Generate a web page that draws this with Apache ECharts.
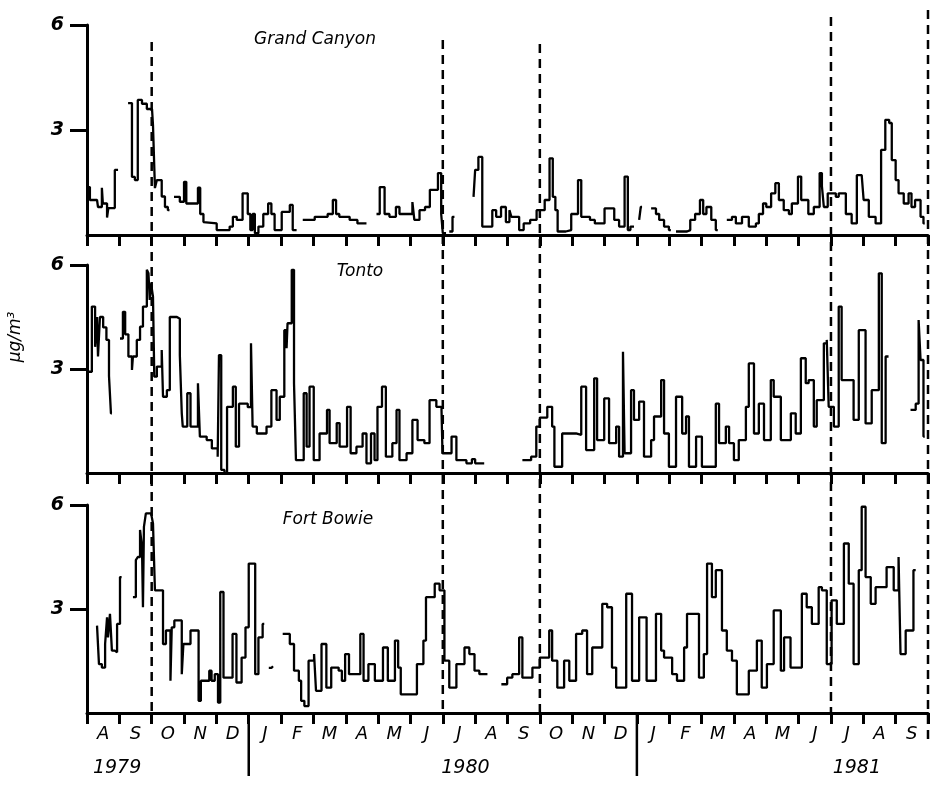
<!DOCTYPE html>
<html>
<head>
<meta charset="utf-8">
<script src="https://cdn.jsdelivr.net/npm/echarts@6/dist/echarts.min.js"></script>
<style>
  html, body { margin: 0; padding: 0; background: #fff; }
  #chart { width: 937px; height: 792px; }
</style>
</head>
<body>
<div id="chart"></div>
<script>
// x = months since 1 Aug 1979, y = ug/m3 ; null = no data (line break)
var months = ['A','S','O','N','D','J','F','M','A','M','J','J','A','S','O','N','D','J','F','M','A','M','J','J','A','S'];
var yearLabels = ['1979', '1980', '1981'];
var yearMonths = [0.93, 11.7, 23.8];
var yearBreaks = [5, 17];
var seasonLines = [2, 11, 14, 23, 26];
var seasonTops = [42, 40, 44, 17, 10];
var seasonBottoms = [713, 713, 713, 713, 740];
var siteNames = ['Grand Canyon', 'Tonto', 'Fort Bowie'];

var grandCanyon = [
	[0,1.37],[0.09,1.0],[0.31,0.95],[0.34,0.8],[0.46,1.35],[0.49,0.9],[0.62,0.5],[0.66,0.77],[0.86,1.86],[0.96,null],
	[1.27,3.77],[1.39,1.66],[1.48,1.57],[1.57,3.86],[1.70,3.75],[1.85,3.6],[2.01,3.57],[2.04,3.14],[2.10,1.34],[2.16,1.57],[2.31,1.1],[2.41,0.8],[2.50,0.71],[2.55,null],
	[2.69,1.09],[2.87,0.95],[3.0,1.52],[3.07,0.9],[3.43,1.35],[3.5,0.6],[3.6,0.37],[3.64,0.33],[4.01,0.14],[4.41,0.24],[4.51,0.52],[4.63,0.43],[4.81,1.19],[4.97,0.6],[5.05,0.14],[5.12,0.6],[5.19,0.05],[5.30,0.24],[5.45,0.6],[5.6,0.9],[5.7,0.6],[5.8,0.14],[6.02,0.66],[6.27,0.86],[6.36,0.14],[6.48,null],
	[6.67,0.43],[7.04,0.52],[7.44,0.6],[7.6,1.0],[7.7,0.6],[7.8,0.52],[8.12,0.43],[8.36,0.33],[8.64,null],
	[8.95,0.6],[9.05,1.37],[9.2,0.6],[9.35,0.52],[9.55,0.8],[9.66,0.6],[9.9,0.6],[10.06,0.94],[10.12,0.43],[10.28,0.71],[10.45,0.8],[10.6,1.29],[10.85,1.77],[10.95,0.6],[11.0,0.05],[11.1,null],
	[11.2,0.1],[11.3,0.52],[11.36,null],
	[11.95,1.09],[12.0,1.86],[12.1,2.23],[12.22,0.24],[12.53,0.71],[12.65,0.52],[12.8,0.8],[12.95,0.37],[13.06,0.71],[13.12,0.52],[13.36,0.14],[13.5,0.33],[13.7,0.43],[13.9,0.71],[14.15,1.0],[14.3,2.19],[14.4,1.09],[14.48,0.71],[14.55,0.1],[14.8,0.14],[14.97,0.6],[15.18,1.57],[15.28,0.52],[15.55,0.43],[15.7,0.33],[16.0,0.76],[16.3,0.43],[16.45,0.24],[16.62,1.67],[16.72,0.14],[16.8,0.24],[16.91,null],
	[17.07,0.43],[17.12,0.8],[17.16,null],
	[17.44,0.76],[17.59,0.6],[17.69,0.43],[17.84,0.24],[17.99,0.14],[18.05,null],
	[18.21,0.1],[18.55,0.14],[18.65,0.43],[18.8,0.6],[18.95,1.0],[19.05,0.6],[19.15,0.8],[19.3,0.43],[19.44,0.14],[19.5,null],
	[19.78,0.43],[19.94,0.52],[20.06,0.33],[20.25,0.52],[20.46,0.24],[20.68,0.33],[20.77,0.6],[20.9,0.9],[21.0,0.8],[21.15,1.19],[21.28,1.48],[21.39,1.0],[21.54,0.71],[21.7,0.6],[21.79,0.9],[21.98,1.67],[22.08,1.0],[22.3,0.6],[22.47,0.8],[22.65,1.77],[22.72,1.4],[22.78,0.8],[22.9,1.19],[23.15,1.09],[23.24,1.19],[23.46,0.6],[23.64,0.33],[23.8,1.71],[23.95,1.67],[24.01,1.0],[24.17,0.52],[24.38,0.33],[24.55,2.43],[24.68,3.29],[24.8,3.2],[24.88,2.14],[25.0,1.57],[25.09,1.19],[25.25,0.9],[25.4,1.19],[25.49,0.8],[25.6,1.0],[25.77,0.52],[25.86,0.33],[25.9,null]
];

var tonto = [
	[0,2.92],[0.15,4.8],[0.25,3.64],[0.31,4.5],[0.34,3.36],[0.4,4.5],[0.5,4.2],[0.6,3.84],[0.68,2.8],[0.74,1.72],[0.77,null],
	[1.02,3.88],[1.11,4.65],[1.18,4.0],[1.28,3.36],[1.39,2.97],[1.42,3.36],[1.54,3.84],[1.64,4.22],[1.73,4.8],[1.85,5.86],[1.9,5.76],[1.94,4.99],[1.98,5.47],[2.04,5.09],[2.08,2.78],[2.16,3.07],[2.31,3.55],[2.35,2.2],[2.47,2.39],[2.56,4.5],[2.78,4.45],[2.87,3.4],[2.93,1.72],[2.96,1.34],[3.1,2.3],[3.2,1.34],[3.43,2.59],[3.49,1.05],[3.70,0.95],[3.86,0.71],[4.04,0.47],[4.08,3.4],[4.15,0.09],[4.25,0],[4.33,1.91],[4.51,2.49],[4.6,0.76],[4.7,2.0],[4.97,1.9],[5.07,3.74],[5.12,1.34],[5.25,1.14],[5.55,1.34],[5.7,2.39],[5.86,1.53],[5.96,2.2],[6.1,4.12],[6.17,3.6],[6.2,4.32],[6.33,5.86],[6.4,2.59],[6.46,0.37],[6.7,2.3],[6.79,0.76],[6.88,2.49],[7.01,0.37],[7.19,1.14],[7.42,1.82],[7.5,0.86],[7.72,1.44],[7.81,0.76],[8.04,1.91],[8.15,0.57],[8.33,0.76],[8.52,1.14],[8.64,0.28],[8.78,1.14],[8.89,0.37],[8.98,1.91],[9.12,2.49],[9.24,0.47],[9.44,0.86],[9.57,1.82],[9.66,0.37],[9.88,0.57],[10.06,1.53],[10.22,0.95],[10.43,0.86],[10.59,2.1],[10.8,1.91],[10.96,1.82],[10.99,0.57],[11.27,1.05],[11.42,0.37],[11.73,0.28],[11.9,0.4],[12.0,0.28],[12.28,null],
	[13.46,0.37],[13.73,0.47],[13.89,1.34],[14.0,1.6],[14.23,1.91],[14.38,1.34],[14.45,0.18],[14.69,1.14],[15.12,1.1],[15.28,2.49],[15.43,0.66],[15.68,2.73],[15.77,0.95],[15.99,2.15],[16.14,0.86],[16.36,1.34],[16.45,0.47],[16.57,3.5],[16.62,0.57],[16.82,2.39],[16.91,1.53],[17.07,2.06],[17.22,0.47],[17.44,0.95],[17.53,1.63],[17.75,2.68],[17.84,1.14],[17.99,0.18],[18.21,2.2],[18.40,1.14],[18.52,1.63],[18.61,0.18],[18.83,1.05],[19.01,0.18],[19.44,2.0],[19.54,0.86],[19.75,1.34],[19.85,0.86],[20.0,0.37],[20.15,0.95],[20.37,1.91],[20.46,3.16],[20.62,1.14],[20.77,2.0],[20.93,0.95],[21.14,2.68],[21.23,2.2],[21.45,0.95],[21.76,1.72],[21.91,1.14],[22.07,3.31],[22.22,2.59],[22.31,2.68],[22.47,1.34],[22.56,2.1],[22.78,3.74],[22.87,3.84],[22.93,1.91],[23.09,1.34],[23.24,4.8],[23.33,2.68],[23.70,1.53],[23.86,4.12],[24.07,1.43],[24.26,2.39],[24.48,5.76],[24.57,0.86],[24.69,3.36],[24.78,null],
	[25.46,1.82],[25.62,2.0],[25.71,4.41],[25.77,3.26],[25.86,1.05],[25.9,null]
];

var fortBowie = [
	[0.31,2.52],[0.37,1.41],[0.46,1.31],[0.56,1.99],[0.62,2.76],[0.65,2.18],[0.71,2.86],[0.77,1.8],[0.86,1.75],[0.93,2.57],[1.02,3.92],[1.07,null],
	[1.42,3.34],[1.51,4.41],[1.57,4.5],[1.64,5.28],[1.70,4.79],[1.73,3.05],[1.76,5.37],[1.82,5.76],[1.98,5.76],[2.04,5.47],[2.10,3.54],[2.35,1.99],[2.44,2.38],[2.58,0.93],[2.62,2.47],[2.70,2.67],[2.93,1.12],[2.98,1.99],[3.2,2.38],[3.45,0.35],[3.52,0.93],[3.78,1.22],[3.85,0.93],[3.95,1.12],[4.05,0.30],[4.12,3.49],[4.22,1.02],[4.5,2.28],[4.62,0.88],[4.78,1.6],[4.9,2.47],[5.0,4.31],[5.2,1.12],[5.3,2.18],[5.43,2.57],[5.48,null],
	[5.62,1.3],[5.7,1.35],[5.75,null],
	[6.05,2.28],[6.27,1.99],[6.4,1.22],[6.55,0.93],[6.62,0.35],[6.72,0.2],[6.85,1.51],[7.02,1.7],[7.08,0.64],[7.25,1.99],[7.4,0.73],[7.55,1.31],[7.78,1.22],[7.88,0.93],[7.98,1.7],[8.1,1.12],[8.45,2.28],[8.55,0.93],[8.7,1.41],[8.9,0.93],[9.15,1.89],[9.3,0.93],[9.52,2.09],[9.62,1.31],[9.7,0.54],[10.03,0.54],[10.2,1.41],[10.4,2.09],[10.48,3.34],[10.75,3.73],[10.9,3.54],[11.05,1.51],[11.2,0.73],[11.42,1.41],[11.67,1.89],[11.82,1.70],[11.98,1.22],[12.13,1.12],[12.38,null],
	[12.81,0.83],[12.99,1.02],[13.15,1.12],[13.36,2.18],[13.46,1.02],[13.77,1.31],[14.0,1.6],[14.29,2.38],[14.38,1.51],[14.54,0.73],[14.75,1.51],[14.91,0.93],[15.12,2.28],[15.31,2.38],[15.46,1.12],[15.62,1.89],[15.93,3.15],[16.08,3.05],[16.23,1.31],[16.36,0.73],[16.67,3.44],[16.85,0.93],[17.07,2.76],[17.3,0.93],[17.59,2.86],[17.75,1.80],[17.84,1.6],[18.09,1.12],[18.24,0.93],[18.46,1.89],[18.55,2.86],[18.92,1.02],[19.07,1.70],[19.17,4.31],[19.32,3.34],[19.44,4.12],[19.63,2.38],[19.78,1.80],[19.94,1.51],[20.09,0.54],[20.46,1.22],[20.71,2.09],[20.86,0.73],[21.02,1.41],[21.23,2.96],[21.45,1.22],[21.55,2.18],[21.75,1.31],[21.91,1.31],[22.1,3.44],[22.25,3.05],[22.41,2.57],[22.62,3.63],[22.72,3.54],[22.87,1.41],[23.02,3.25],[23.18,2.57],[23.40,4.89],[23.55,3.73],[23.70,1.41],[23.86,4.12],[23.95,5.95],[24.07,3.92],[24.23,3.15],[24.38,3.63],[24.72,4.21],[24.94,3.54],[25.09,4.5],[25.15,1.70],[25.31,2.38],[25.55,4.12],[25.62,null]
];

var FONT = 'DejaVu Sans';
var chart = echarts.init(document.getElementById('chart'));

// a null entry closes the previous level at that x before breaking the line
function segs(data) {
	var out = [];
	for (var i = 0; i < data.length; i++) {
		if (data[i][1] === null && out.length && out[out.length - 1][1] !== null) {
			out.push([data[i][0], out[out.length - 1][1]]);
		}
		out.push(data[i]);
	}
	return out;
}

var gridTops = [25, 265, 505];
var gridHeights = [210, 208, 208];
var grids = [], xAxes = [], yAxes = [], series = [];
var allData = [grandCanyon, tonto, fortBowie];

for (var i = 0; i < 3; i++) {
	grids.push({ left: 87, right: 9, top: gridTops[i], height: gridHeights[i] });
	xAxes.push({
		gridIndex: i, type: 'value', min: 0, max: 26, interval: 1, position: 'bottom',
		axisLine: { onZero: false, lineStyle: { color: '#000', width: 3 } },
		axisTick: { length: 11, lineStyle: { color: '#000', width: 3 } },
		axisLabel: { show: false },
		splitLine: { show: false }
	});
	yAxes.push({
		gridIndex: i, type: 'value', min: 0, max: 6, interval: 3,
		axisLine: { show: true, lineStyle: { color: '#000', width: 3 } },
		axisTick: { show: true, length: 17, customValues: [3, 6], lineStyle: { color: '#000', width: 3 } },
		axisLabel: { customValues: [3, 6], margin: 23, color: '#000', fontSize: 19, fontStyle: 'italic', fontWeight: 'bold', fontFamily: FONT },
		splitLine: { show: false }
	});
	series.push({
		type: 'line', xAxisIndex: i, yAxisIndex: i,
		step: 'end', symbol: 'none', connectNulls: false,
		lineStyle: { color: '#000', width: 2.3 },
		data: segs(allData[i])
	});
}
// month letters under the bottom panel
xAxes.push({
	gridIndex: 2, type: 'category', data: months, boundaryGap: true, position: 'bottom',
	axisLine: { show: false }, axisTick: { show: false },
	axisLabel: { interval: 0, margin: 12, color: '#000', fontSize: 18, fontStyle: 'italic', fontFamily: FONT }
});

chart.setOption({
	backgroundColor: '#fff',
	animation: false,
	grid: grids,
	xAxis: xAxes,
	yAxis: yAxes,
	series: series
});

function px(m) {
	return chart.convertToPixel({ xAxisIndex: 0 }, m);
}

var graphics = [];
for (var k = 0; k < seasonLines.length; k++) {
	var x = px(seasonLines[k]);
	graphics.push({
		type: 'line', silent: true, z: 10,
		shape: { x1: x, y1: seasonTops[k], x2: x, y2: seasonBottoms[k] },
		style: { stroke: '#000', lineWidth: 2.5, lineDash: [9, 6] }
	});
}
for (var b = 0; b < yearBreaks.length; b++) {
	var xb = px(yearBreaks[b]);
	graphics.push({
		type: 'line', silent: true,
		shape: { x1: xb, y1: 713, x2: xb, y2: 776 },
		style: { stroke: '#000', lineWidth: 2.5 }
	});
}
for (var y = 0; y < yearLabels.length; y++) {
	graphics.push({
		type: 'text', silent: true,
		x: px(yearMonths[y]), y: 768,
		style: { text: yearLabels[y], fill: '#000', font: 'italic 19px "' + FONT + '"', align: 'center', verticalAlign: 'middle' }
	});
}
var titleX = [315, 360, 328];
var titleY = [40, 272, 520];
for (var t = 0; t < siteNames.length; t++) {
	graphics.push({
		type: 'text', silent: true,
		x: titleX[t], y: titleY[t],
		style: { text: siteNames[t], fill: '#000', font: 'italic 17px "' + FONT + '"', align: 'center', verticalAlign: 'middle' }
	});
}
graphics.push({
	type: 'text', silent: true,
	x: 16, y: 337, rotation: Math.PI / 2,
	style: { text: 'μg/m³', fill: '#000', font: 'italic 17px "' + FONT + '"', align: 'center', verticalAlign: 'middle' }
});

chart.setOption({ graphic: graphics });

window.addEventListener('resize', function () {
	chart.resize();
});
</script>
</body>
</html>
